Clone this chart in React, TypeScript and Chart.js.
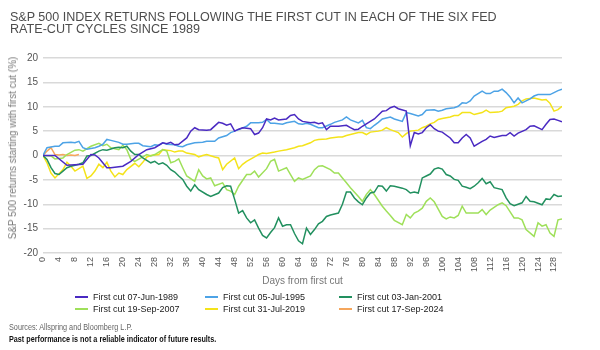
import React, { useEffect, useLayoutEffect, useRef } from "react";
import { Chart, registerables } from "chart.js";

Chart.register(...registerables);

const FONT = "'Liberation Sans', Arial, Helvetica, sans-serif";

const TITLE_LINES = [
  "S&P 500 INDEX RETURNS FOLLOWING THE FIRST CUT IN EACH OF THE SIX FED",
  "RATE-CUT CYCLES SINCE 1989",
];
const Y_TITLE = "S&P 500 returns starting with first cut (%)";
const X_TITLE = "Days from first cut";
const SOURCES = "Sources: Allspring and Bloomberg L.P.";
const DISCLAIMER = "Past performance is not a reliable indicator of future results.";

const X_MIN = 0;
const X_MAX = 130;
const X_STEP = 4;
const Y_MIN = -20;
const Y_MAX = 20;
const Y_STEP = 5;

const LABELS = [
  "First cut 07-Jun-1989",
  "First cut 05-Jul-1995",
  "First cut 03-Jan-2001",
  "First cut 19-Sep-2007",
  "First cut 31-Jul-2019",
  "First cut 17-Sep-2024",
];
const COLORS = ["#4a2ac2", "#4da3e6", "#22905f", "#9fe05a", "#f4e31a", "#f5a65c"];

// 1989
const days1989 = [0, 3, 6, 8, 10, 12, 13, 14, 16, 17, 20, 22, 24, 26, 28, 30, 31, 32, 33, 34, 36, 37, 38, 39, 41, 42, 44, 45, 46, 47, 48, 49, 50, 52, 53, 54, 55, 56, 57, 58, 59, 61, 62, 63, 64, 65, 67, 68, 69, 70, 71, 72, 74, 76, 77, 78, 79, 80, 82, 83, 85, 86, 87, 88, 89, 91, 92, 93, 94, 95, 96, 97, 98, 99, 100, 102, 103, 104, 105, 106, 107, 108, 110, 111, 112, 113, 115, 116, 117, 118, 119, 121, 122, 123, 125, 126, 127, 128, 129, 130];
const ret1989 = [0, 0, -2, -1.9, -1.8, 0.2, 0.1, -0.5, -2.5, -2.5, -2.2, -1.2, 0.2, 1.2, 1.6, 2.6, 2.4, 2.7, 2.2, 2.3, 3.6, 5, 5.7, 5.3, 5.2, 5.3, 6.8, 6.6, 6.2, 6.5, 5, 5.4, 5.7, 5.5, 4.3, 4.6, 5.7, 7.5, 7.3, 7.7, 7.3, 7.5, 8.2, 8.4, 7.5, 7, 6.7, 6.8, 6.5, 6.7, 5.3, 6, 6, 6.2, 5.7, 5.3, 5.4, 6, 7, 7.5, 9.1, 9.2, 9.8, 10.1, 9.6, 9.1, 2.0, 4.7, 4.4, 4.7, 5.7, 6.3, 5.5, 5, 4.8, 3.6, 2.6, 2.6, 3.6, 4.3, 3.6, 1.9, 2.9, 3.3, 4, 3.7, 4.1, 4.1, 4.7, 4, 4.6, 5.3, 6, 6.1, 5.3, 6.4, 7.4, 7.5, 7.2, 6.9];

// 1995
const days1995 = [0, 1, 3, 4, 5, 7, 8, 9, 10, 11, 13, 14, 15, 16, 17, 19, 20, 21, 23, 24, 25, 27, 28, 29, 30, 31, 33, 34, 35, 36, 38, 40, 41, 43, 44, 46, 47, 48, 49, 51, 52, 54, 55, 56, 57, 58, 60, 61, 63, 64, 65, 66, 67, 69, 70, 72, 73, 75, 76, 77, 79, 80, 81, 82, 83, 84, 85, 87, 88, 90, 91, 92, 94, 95, 96, 98, 99, 100, 101, 103, 104, 105, 106, 107, 108, 110, 111, 112, 113, 114, 115, 116, 117, 118, 119, 120, 122, 123, 124, 127, 128, 129, 130];
const ret1995 = [0, 1.6, 1.9, 1.9, 2.6, 2.7, 2.6, 2.9, 1.6, 1.3, 1.6, 1.9, 2.3, 3.3, 3.1, 2.7, 2.3, 2.3, 2.5, 2.5, 2, 1.8, 2.2, 2.1, 2.6, 2.3, 2.2, 1.9, 1.8, 2.2, 2.6, 2.7, 2.9, 2.9, 3.6, 4.1, 4.7, 5, 5.3, 6, 6.7, 6.7, 6.8, 7.4, 6.6, 6.6, 6.4, 6.7, 7, 6.5, 6.4, 6.6, 6.4, 5.7, 5.7, 6.4, 6.8, 7.3, 7.9, 7.3, 6.7, 7.2, 5.7, 5.5, 6.2, 6.8, 7.5, 7.9, 7.5, 7, 8.8, 8.6, 8.1, 8.4, 9.3, 9.4, 9.1, 9.3, 9.6, 9.8, 10.1, 10.8, 10.7, 11.2, 12.2, 13.2, 12.7, 12.7, 13.2, 13.2, 13.6, 12.9, 12, 10.8, 11.8, 10.8, 11.6, 12.2, 12.5, 12.5, 12.9, 13.3, 13.6];

// 2001
const days2001 = [0, 1, 2, 3, 4, 5, 6, 7, 9, 10, 11, 12, 14, 15, 16, 18, 19, 20, 21, 22, 23, 24, 25, 27, 28, 29, 30, 31, 32, 33, 34, 35, 36, 37, 38, 39, 41, 42, 44, 45, 46, 47, 48, 49, 50, 51, 52, 53, 54, 55, 56, 57, 58, 59, 60, 61, 62, 63, 64, 65, 66, 67, 68, 69, 70, 71, 72, 74, 75, 76, 77, 78, 79, 80, 81, 82, 83, 84, 85, 86, 87, 88, 90, 91, 92, 93, 94, 95, 96, 97, 98, 99, 100, 101, 102, 103, 104, 105, 106, 107, 108, 109, 110, 111, 112, 113, 115, 116, 117, 118, 120, 121, 122, 123, 125, 126, 127, 128, 129, 130];
const ret2001 = [0, -0.8, -2.5, -3.7, -3.9, -3.2, -2.5, -2.2, -1.8, -1.5, -0.1, 0, 0.9, 1.2, 1.1, 1.6, 1.7, 1.6, 1.9, 0.9, 0.2, 0.2, -0.5, -1.5, -1.2, -1.8, -1.5, -2, -2.9, -3.4, -4.2, -4.9, -6.3, -7.3, -6, -7, -8, -8.4, -7.7, -6.6, -6.2, -6.3, -9, -11.8, -11.3, -12.8, -13.8, -13.2, -14.9, -16.4, -16.9, -15.8, -14.8, -12.8, -14.5, -14.2, -14.2, -16, -17.5, -18.1, -14.9, -16.2, -15.2, -14, -13.5, -12.5, -12.2, -11.8, -10, -7.5, -7.5, -8.7, -9.5, -10.1, -8.7, -7.7, -7.5, -6.2, -6.3, -7.3, -6.2, -6.3, -6.7, -7, -7.7, -7.5, -7.7, -4.6, -4.2, -3.8, -2.8, -2.5, -2.8, -3.9, -4.2, -4.9, -5.1, -6.3, -6.5, -6.8, -6.3, -5.6, -4.7, -5.8, -5.4, -6.6, -7, -8.7, -9.9, -10.3, -9.7, -8.4, -9.4, -9.5, -10.1, -8.9, -9, -8, -8.4, -8.3];

// 2007
const days2007 = [0, 2, 3, 5, 6, 8, 9, 10, 12, 14, 15, 16, 17, 19, 20, 21, 22, 23, 25, 26, 27, 28, 30, 31, 32, 33, 34, 35, 36, 38, 39, 40, 41, 42, 43, 45, 46, 47, 48, 49, 51, 52, 53, 54, 56, 57, 58, 59, 61, 62, 63, 64, 65, 67, 68, 69, 70, 72, 73, 74, 75, 76, 77, 79, 80, 81, 82, 83, 85, 86, 87, 88, 90, 91, 92, 93, 94, 95, 96, 97, 98, 99, 100, 101, 102, 103, 104, 105, 106, 108, 109, 110, 111, 112, 114, 115, 116, 118, 119, 120, 121, 123, 124, 125, 126, 127, 128, 129, 130];
const ret2007 = [0, -0.1, -0.7, -0.5, 0.2, 1.1, 1.2, 0.9, 1.9, 2.5, 2, 2.3, 1.6, 1.2, 2.1, 1.2, -0.8, -1.2, -0.3, 0.2, -0.1, 0.2, 1.2, 0.9, -1.5, -1.2, -0.7, -2.5, -4.2, -5.3, -2.9, -4.2, -4.8, -4.6, -6.2, -5.6, -7, -7.3, -8, -6.3, -3.9, -3.9, -3.2, -4.4, -2.7, -1.2, -0.8, -3.2, -2.5, -3.9, -5.3, -4.6, -4.9, -4.2, -2.9, -2.2, -2.1, -2.9, -3.6, -3.6, -4.6, -5.6, -6.6, -8.4, -9.4, -8, -7, -8, -10.4, -11.4, -12.3, -13.3, -14.2, -12.1, -12.8, -11.8, -11.4, -10.8, -9.4, -8.7, -9.5, -11, -12.5, -13, -12.6, -12.8, -12.3, -10.4, -11.8, -11.8, -11.8, -11.1, -12.1, -11.2, -10.1, -9.7, -10.3, -12.8, -12.8, -13.2, -15.2, -16.6, -13.8, -14.5, -14.2, -15.9, -16.6, -13.2, -13];

// 2019
const days2019 = [0, 1, 2, 3, 5, 6, 7, 8, 10, 11, 12, 13, 14, 15, 16, 17, 18, 19, 20, 21, 23, 24, 25, 26, 27, 29, 30, 31, 32, 33, 34, 35, 36, 38, 39, 40, 41, 43, 44, 45, 46, 48, 49, 50, 51, 53, 54, 55, 56, 58, 59, 61, 63, 64, 65, 66, 67, 68, 69, 71, 72, 74, 75, 76, 77, 79, 80, 81, 82, 84, 85, 86, 87, 89, 90, 91, 92, 94, 95, 96, 97, 98, 99, 100, 102, 103, 104, 105, 107, 108, 109, 110, 111, 112, 114, 115, 116, 118, 119, 120, 121, 123, 124, 125, 126, 127, 128, 129, 130];
const ret2019 = [0, -1.5, -3.6, -4.6, -2.9, -1.4, -2.2, -3.2, -2.2, -4.7, -4.2, -3.2, -1.8, -2.5, -1.4, -3.2, -4.4, -3.6, -3.9, -2.9, -1.6, -2.3, -1.4, -0.3, 0, 0.2, 1.2, 1.1, 1, 0.7, 0.9, 0.9, 0.5, 0.2, -0.3, 0, 0.2, -0.3, -0.5, -2.9, -1.8, -0.5, -2.7, -1.8, -1.2, -0.3, 0.2, 0.5, 0.4, 0.7, 0.9, 1.2, 1.6, 1.9, 2, 2.3, 2.6, 3.1, 3.3, 3.4, 3.6, 3.8, 3.8, 4.1, 4.3, 4.7, 4.7, 4.3, 4.8, 5, 5.2, 5.7, 5.3, 4.7, 3.8, 4.5, 5, 5.2, 5.7, 6, 6.5, 6.8, 7.4, 7.6, 7.9, 8.2, 8.2, 8.8, 8.8, 8.4, 8.6, 8.8, 9.3, 8.8, 8.9, 9.1, 9.8, 10.1, 10.5, 11.2, 11.6, 11.8, 11.6, 11.4, 11.5, 10.7, 9.1, 9.4, 10.1];

// 2024
const days2024 = [0, 1, 2, 3, 4, 5, 6, 7, 8, 9];
const ret2024 = [0, 0.9, 1.6, 0.2, 0.1, 0.2, 0, 0.1, 0, 0.2];

const SERIES_DAYS = [days1989, days1995, days2001, days2007, days2019, days2024];
const SERIES_VALUES = [ret1989, ret1995, ret2001, ret2007, ret2019, ret2024];

function FitText(props: { text: string; width: number; style: React.CSSProperties }) {
  const ref = useRef<HTMLSpanElement>(null);
  useLayoutEffect(() => {
    const el = ref.current;
    if (!el) return;
    const w = el.offsetWidth;
    if (w > 0) el.style.transform = `scaleX(${props.width / w})`;
  }, [props.text, props.width]);
  return (
    <span
      ref={ref}
      style={{
        position: "absolute",
        whiteSpace: "nowrap",
        transformOrigin: "0 0",
        fontFamily: FONT,
        ...props.style,
      }}
    >
      {props.text}
    </span>
  );
}

export default function App() {
  const canvasRef = useRef<HTMLCanvasElement>(null);

  useEffect(() => {
    const canvas = canvasRef.current;
    if (!canvas) return;
    const datasets = LABELS.map((label, i) => ({
      label,
      data: SERIES_DAYS[i].map((d, j) => ({ x: d, y: SERIES_VALUES[i][j] })),
      borderColor: COLORS[i],
      backgroundColor: COLORS[i],
      borderWidth: 1.5,
      pointRadius: 0,
      tension: 0,
      fill: false,
    }));
    const chart = new Chart(canvas, {
      type: "line",
      data: { datasets },
      options: {
        animation: false,
        responsive: false,
        maintainAspectRatio: false,
        layout: { padding: { top: 58, bottom: 60, left: 0, right: 38 } },
        plugins: {
          legend: { display: false },
          tooltip: { enabled: false },
          title: { display: false },
        },
        scales: {
          x: {
            type: "linear",
            min: X_MIN,
            max: X_MAX,
            afterFit: (s: any) => {
              s.height = 37;
            },
            grid: { display: false, drawTicks: false },
            border: { display: false },
            ticks: {
              stepSize: X_STEP,
              includeBounds: false,
              autoSkip: false,
              minRotation: 90,
              maxRotation: 90,
              padding: 4,
              color: "#555",
              font: { size: 9, family: FONT },
            },
            title: {
              display: true,
              text: X_TITLE,
              color: "#777",
              font: { size: 10, family: FONT },
              padding: { top: 0, bottom: 3 },
            },
          },
          y: {
            min: Y_MIN,
            max: Y_MAX,
            afterFit: (s: any) => {
              s.width = 43;
            },
            grid: { color: "#d9d9d9", lineWidth: 1.5, drawTicks: false },
            border: { display: false },
            ticks: {
              stepSize: Y_STEP,
              padding: 5,
              color: "#555",
              font: { size: 10, family: FONT },
            },
          },
        },
      },
    } as any);
    return () => chart.destroy();
  }, []);

  const legendCols = [
    { sw: 75, tx: 93 },
    { sw: 205, tx: 223 },
    { sw: 339, tx: 357 },
  ];
  const legendRows = [297.3, 309];

  return (
    <div
      style={{
        position: "absolute",
        left: 0,
        top: 0,
        width: 600,
        height: 350,
        background: "#fff",
        overflow: "hidden",
      }}
    >
      <canvas
        ref={canvasRef}
        width={600}
        height={350}
        style={{ position: "absolute", left: 0, top: 0, width: 600, height: 350 }}
      />
      <FitText
        text={TITLE_LINES[0]}
        width={487}
        style={{ left: 9.5, top: 10.7, fontSize: 12, lineHeight: "12px", color: "#4d4d4d" }}
      />
      <FitText
        text={TITLE_LINES[1]}
        width={190}
        style={{ left: 9.5, top: 23.2, fontSize: 12, lineHeight: "12px", color: "#4d4d4d" }}
      />
      <div
        style={{
          position: "absolute",
          left: 12.5,
          top: 148,
          transform: "translate(-50%, -50%) rotate(-90deg)",
          whiteSpace: "nowrap",
          fontFamily: FONT,
          fontSize: 10,
          lineHeight: "10px",
          color: "#7a7a7a",
        }}
      >
        {Y_TITLE}
      </div>
      {LABELS.map((label, i) => {
        const col = legendCols[i % 3];
        const cy = legendRows[Math.floor(i / 3)];
        return (
          <React.Fragment key={label}>
            <div
              style={{
                position: "absolute",
                left: col.sw,
                top: cy - 1,
                width: 13,
                height: 2,
                background: COLORS[i],
              }}
            />
            <span
              style={{
                position: "absolute",
                left: col.tx,
                top: cy - 4.5,
                fontFamily: FONT,
                fontSize: 9,
                lineHeight: "9px",
                color: "#222",
                whiteSpace: "nowrap",
              }}
            >
              {label}
            </span>
          </React.Fragment>
        );
      })}
      <FitText
        text={SOURCES}
        width={123}
        style={{ left: 9.3, top: 322, fontSize: 9.5, lineHeight: "9.5px", color: "#666" }}
      />
      <FitText
        text={DISCLAIMER}
        width={207}
        style={{ left: 9.3, top: 334, fontSize: 9.5, lineHeight: "9.5px", color: "#111", fontWeight: "bold" }}
      />
    </div>
  );
}
